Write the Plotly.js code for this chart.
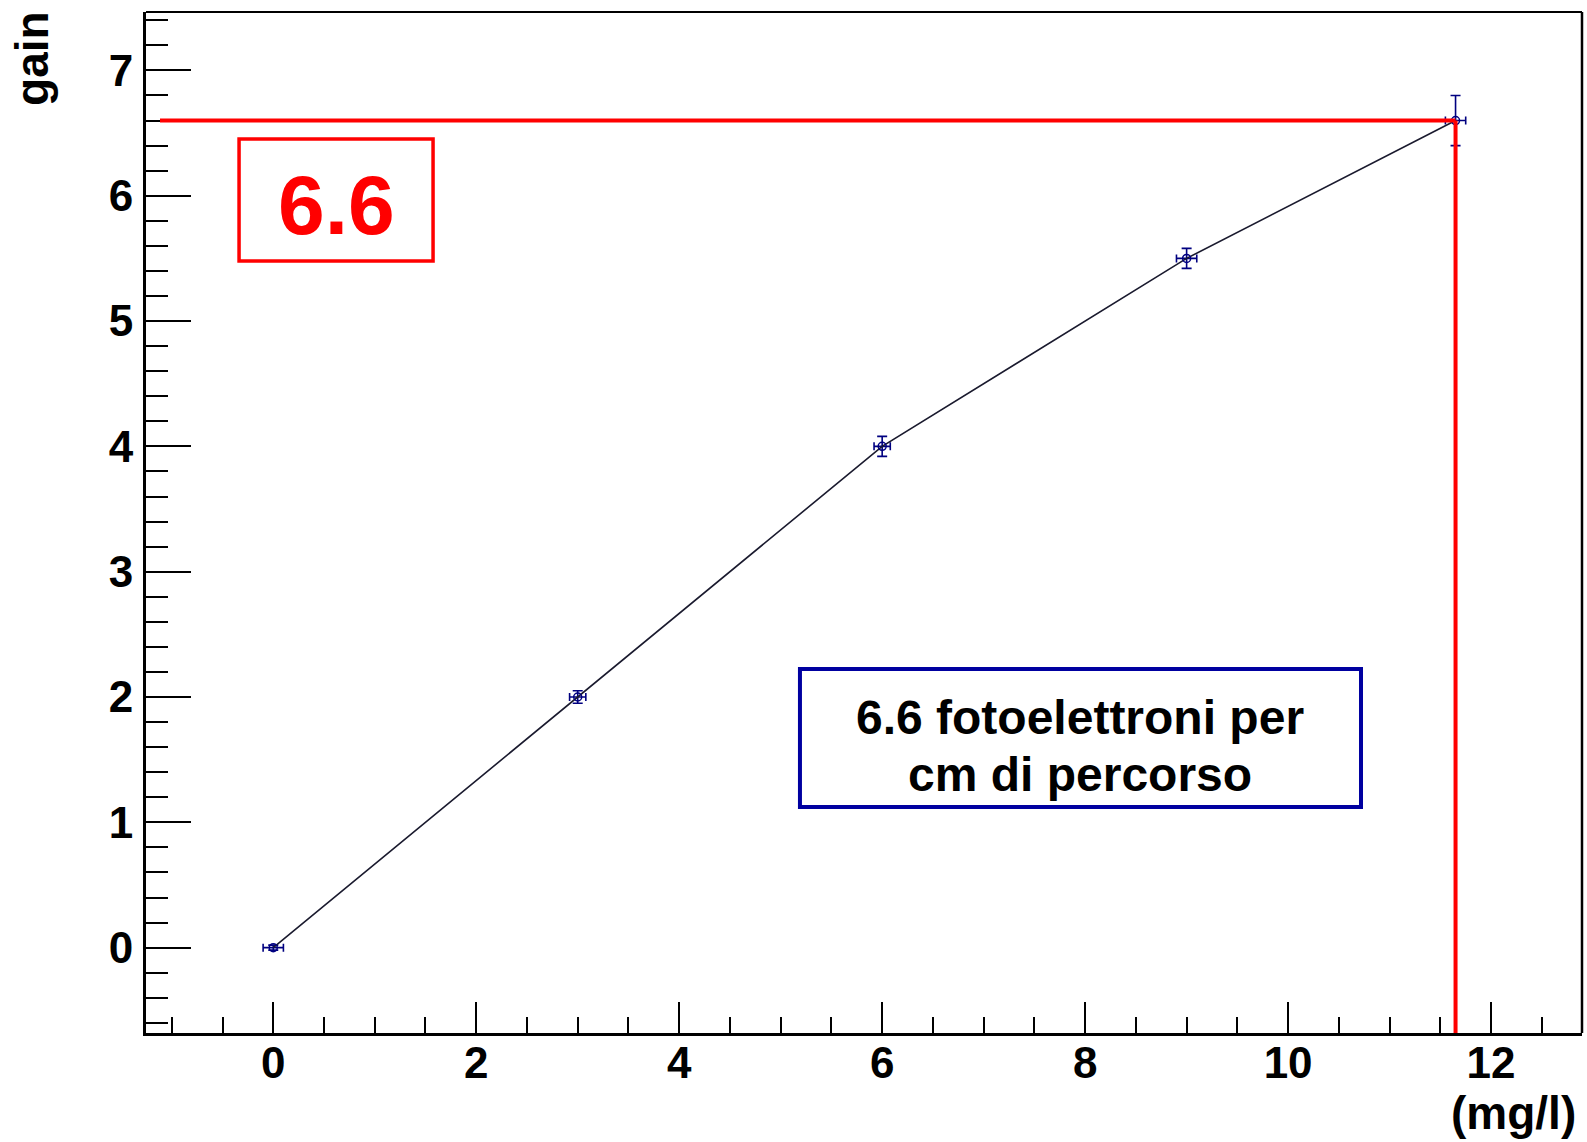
<!DOCTYPE html>
<html>
<head>
<meta charset="utf-8">
<script src="https://cdn.plot.ly/plotly-3.0.1.min.js"></script>
<style>html,body{margin:0;padding:0;background:#fff;}#chart{width:1587px;height:1142px;}</style>
</head>
<body>
<div id="chart"></div>
<script>
// Data
const concentration = [0, 3, 6, 9, 11.65];      // (mg/l)
const gain          = [0, 2, 4, 5.5, 6.6];
const errConc       = [0.1, 0.08, 0.08, 0.1, 0.1];
const errGain       = [0.02, 0.05, 0.08, 0.08, 0.2];
const markX = 11.65;   // concentration at highlighted point
const markY = 6.6;     // gain at highlighted point
const xTicks = [0, 2, 4, 6, 8, 10, 12];
const yTicks = [0, 1, 2, 3, 4, 5, 6, 7];
const boxLabel = "6.6";
const noteLines = ["6.6 fotoelettroni per", "cm di percorso"];

const xRange = [-1.254, 12.896];
const yRange = [-0.681, 7.466];

const FONT = "Liberation Sans, Arial, Helvetica, sans-serif";

const trace = {
  x: concentration, y: gain, type: "scatter", mode: "lines+markers",
  line: {color: "#1a1a2e", width: 1.6},
  marker: {symbol: "circle-open", size: 8, color: "#000080", line: {width: 1.5, color: "#000080"}},
  error_x: {type: "data", array: errConc, color: "#000080", thickness: 1.6, width: 4},
  error_y: {type: "data", array: errGain, color: "#000080", thickness: 1.6, width: 5},
  showlegend: false, hoverinfo: "x+y"
};

const axisCommon = {
  showgrid: false, zeroline: false, showline: true, linecolor: "#000", linewidth: 3,
  ticks: "inside", tickcolor: "#000", tickwidth: 2,
  tickfont: {family: FONT, size: 44, color: "#000", weight: "bold"}
};

const layout = {
  width: 1587, height: 1142,
  margin: {l: 146, r: 5, t: 12, b: 109},
  paper_bgcolor: "#fff", plot_bgcolor: "#fff",
  font: {family: FONT, color: "#000"},
  xaxis: Object.assign({}, axisCommon, {
    range: xRange, tickmode: "array", tickvals: xTicks, ticktext: xTicks.map(String),
    ticklen: 31, ticklabelstandoff: -11,
    minor: {dtick: 0.5, tick0: 0, ticks: "inside", ticklen: 16, tickwidth: 2, tickcolor: "#000"}
  }),
  yaxis: Object.assign({}, axisCommon, {
    range: yRange, tickmode: "array", tickvals: yTicks, ticktext: yTicks.map(String),
    ticklen: 45, ticklabelstandoff: 1,
    minor: {dtick: 0.2, tick0: 0, ticks: "inside", ticklen: 22, tickwidth: 2, tickcolor: "#000"}
  }),
  shapes: [
    // frame top/right
    {type: "line", xref: "paper", yref: "paper", x0: 0, x1: 1, y0: 1, y1: 1, line: {color: "#000", width: 2}},
    {type: "line", xref: "paper", yref: "paper", x0: 1, x1: 1, y0: 0, y1: 1, line: {color: "#000", width: 2.5}},
    // red guide lines
    {type: "line", xref: "x", yref: "y", x0: -1.116, x1: markX, y0: markY, y1: markY, line: {color: "#ff0000", width: 4}},
    {type: "line", xref: "x", yref: "y", x0: markX, x1: markX, y0: markY, y1: yRange[0], line: {color: "#ff0000", width: 4}},
    // red box
    {type: "rect", xref: "paper", yref: "paper", x0: 0.0648, x1: 0.1999, y0: 0.7561, y1: 0.8756,
     line: {color: "#ff0000", width: 3.5}, fillcolor: "rgba(0,0,0,0)"},
    // blue box
    {type: "rect", xref: "paper", yref: "paper", x0: 0.4554, x1: 0.8461, y0: 0.2213, y1: 0.3565,
     line: {color: "#0000a0", width: 4}, fillcolor: "#fff"}
  ],
  annotations: [
    {xref: "paper", yref: "paper", x: (0.0648 + 0.1999) / 2, y: 0.811,
     text: boxLabel, showarrow: false, xanchor: "center", yanchor: "middle",
     font: {family: FONT, size: 84, color: "#ff0000", weight: "bold"}},
    {xref: "paper", yref: "paper", x: (0.4554 + 0.8461) / 2, y: 0.309,
     text: noteLines[0], showarrow: false, xanchor: "center", yanchor: "middle",
     font: {family: FONT, size: 48, color: "#000", weight: "bold"}},
    {xref: "paper", yref: "paper", x: (0.4554 + 0.8461) / 2, y: 0.2535,
     text: noteLines[1], showarrow: false, xanchor: "center", yanchor: "middle",
     font: {family: FONT, size: 48, color: "#000", weight: "bold"}},
    {xref: "paper", yref: "paper", x: 0.997, y: -0.0784, text: "(mg/l)", showarrow: false,
     xanchor: "right", yanchor: "middle", font: {family: FONT, size: 46, color: "#000", weight: "bold"}},
    {xref: "paper", yref: "paper", x: -0.0794, y: 0.955, text: "gain", showarrow: false, textangle: -90,
     xanchor: "center", yanchor: "middle", font: {family: FONT, size: 46, color: "#000", weight: "bold"}}
  ]
};

Plotly.newPlot("chart", [trace], layout, {displayModeBar: false, staticPlot: true});
</script>
</body>
</html>
